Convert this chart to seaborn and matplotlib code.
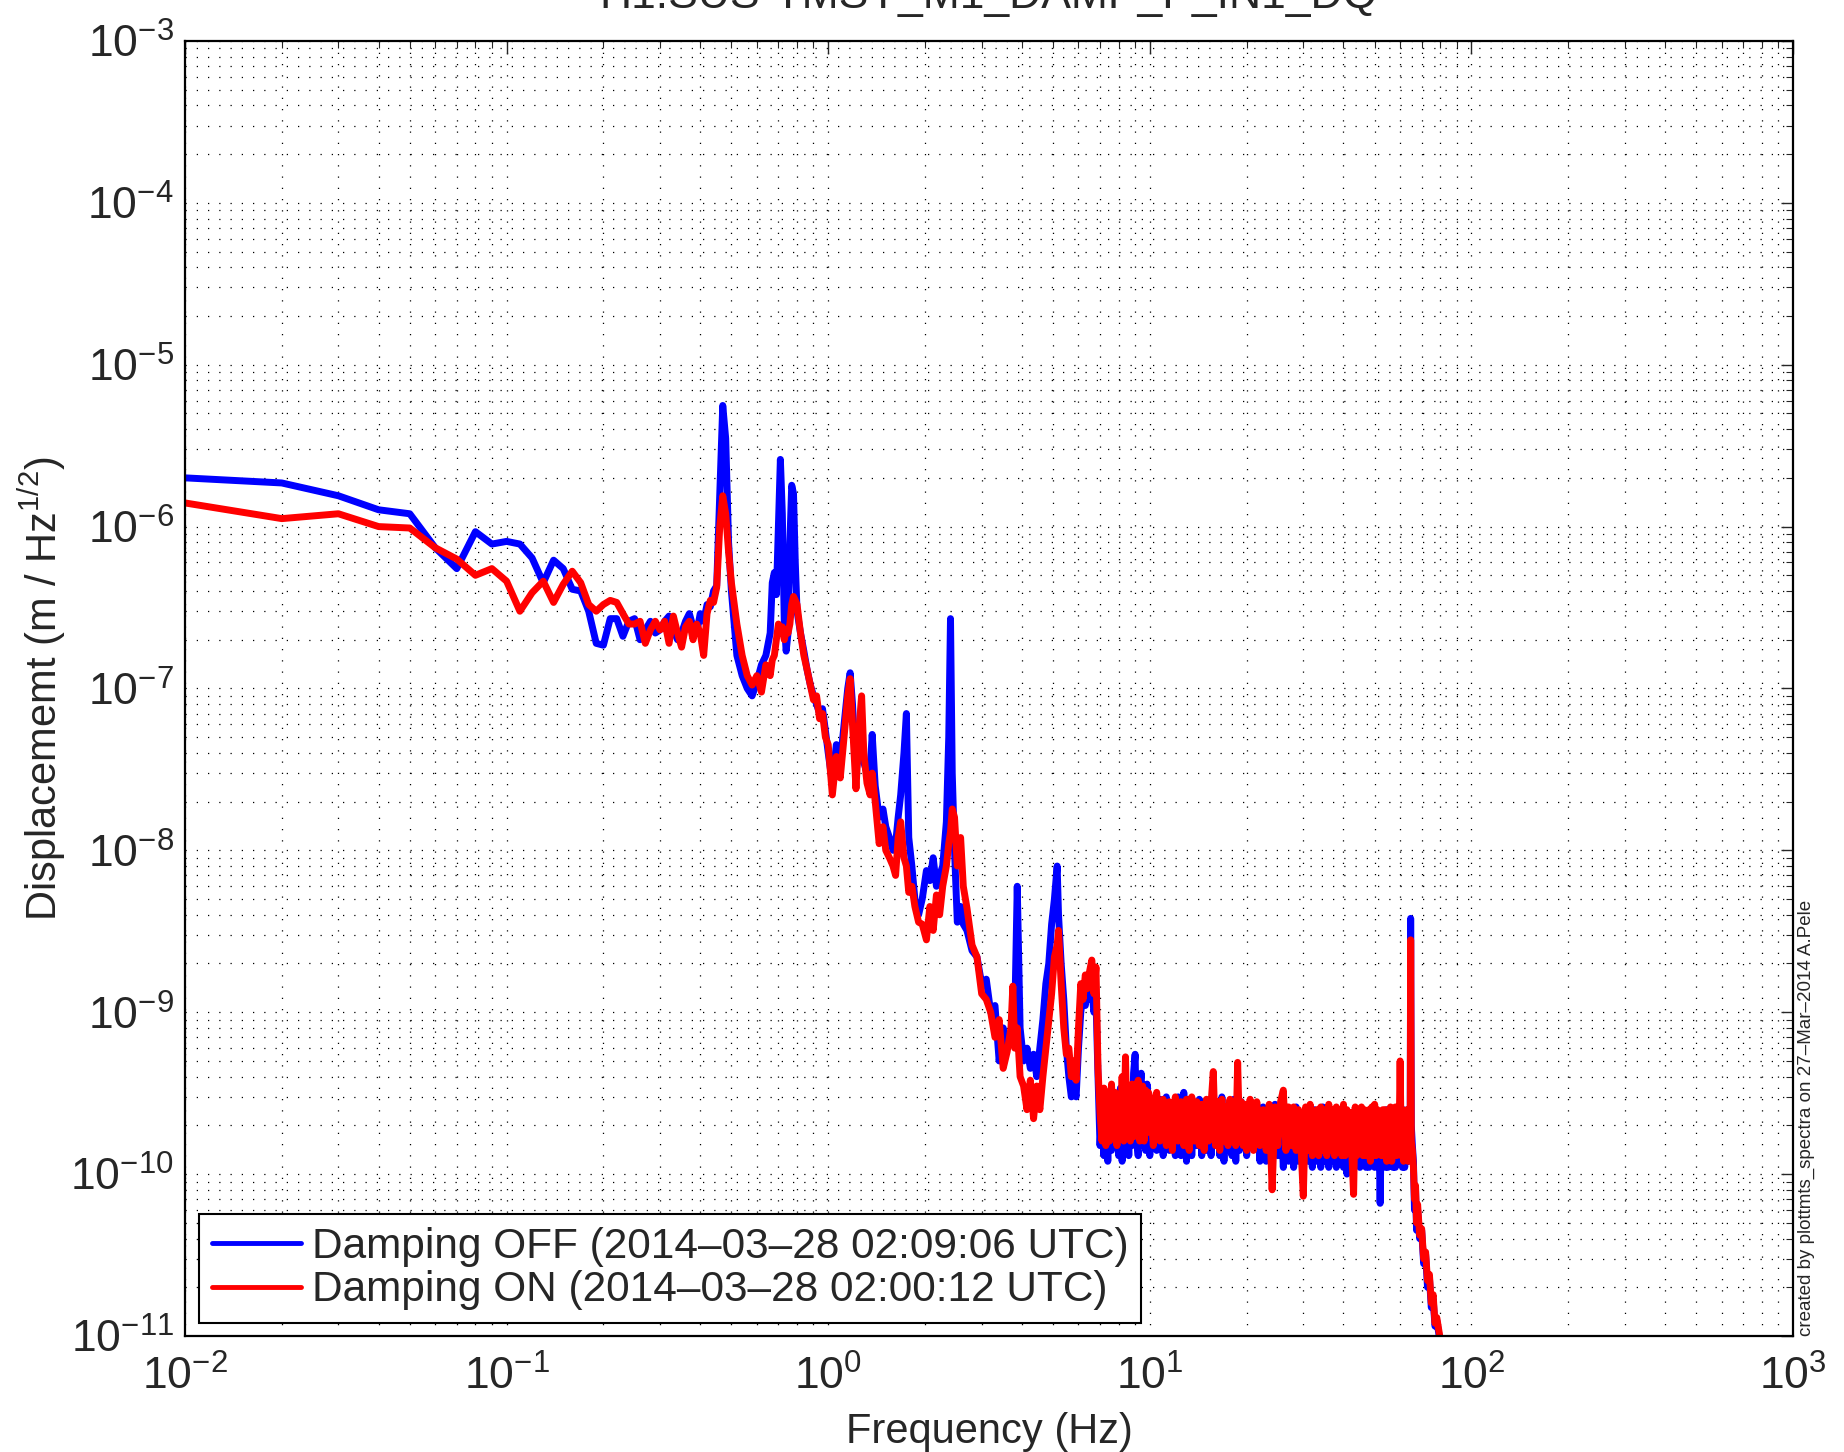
import numpy as np
import pandas as pd
import matplotlib
matplotlib.use("Agg")
import matplotlib.pyplot as plt
import matplotlib.ticker as mticker
import seaborn as sns

# --- data (m / sqrt(Hz)) ---
freq_low = [0.01, 0.02, 0.03, 0.04, 0.05, 0.06, 0.07, 0.08, 0.09, 0.10,
            0.11, 0.12, 0.13, 0.14, 0.15, 0.16, 0.17, 0.18, 0.19, 0.20,
            0.21, 0.22, 0.23, 0.24, 0.25, 0.26, 0.27, 0.28, 0.29, 0.30,
            0.31, 0.32, 0.33, 0.34, 0.35, 0.36, 0.37, 0.38, 0.39, 0.40,
            0.41, 0.42, 0.43, 0.44, 0.45, 0.46, 0.47, 0.48, 0.49, 0.50,
            0.52, 0.54, 0.56, 0.58, 0.60, 0.62, 0.64, 0.66, 0.67, 0.68,
            0.69, 0.70, 0.71, 0.72, 0.73, 0.74, 0.75, 0.76, 0.77, 0.78,
            0.79, 0.80, 0.82, 0.84, 0.86, 0.88, 0.90, 0.92, 0.94, 0.96, 0.98]
off_low = [2.0e-6, 1.86e-6, 1.55e-6, 1.27e-6, 1.2e-6, 7.4e-7, 5.5e-7, 9.3e-7, 7.8e-7, 8.1e-7,
           7.8e-7, 6.4e-7, 4.5e-7, 6.2e-7, 5.5e-7, 4.1e-7, 4.0e-7, 3.0e-7, 1.9e-7, 1.85e-7,
           2.7e-7, 2.7e-7, 2.1e-7, 2.6e-7, 2.7e-7, 2.0e-7, 2.3e-7, 2.6e-7, 2.2e-7, 2.3e-7,
           2.6e-7, 2.8e-7, 2.3e-7, 2.0e-7, 2.2e-7, 2.6e-7, 2.9e-7, 2.4e-7, 2.2e-7, 2.9e-7,
           2.6e-7, 3.3e-7, 3.2e-7, 4.0e-7, 4.3e-7, 1.6e-6, 5.6e-6, 3.5e-6, 8.0e-7, 4.0e-7,
           1.6e-7, 1.2e-7, 1.0e-7, 9.0e-8, 1.1e-7, 1.4e-7, 1.6e-7, 2.2e-7, 4.5e-7, 5.2e-7,
           3.8e-7, 1.0e-6, 2.6e-6, 1.2e-6, 2.6e-7, 1.7e-7, 2.2e-7, 8.0e-7, 1.8e-6, 1.6e-6,
           6.0e-7, 3.0e-7, 2.2e-7, 1.7e-7, 1.3e-7, 1.05e-7, 9.0e-8, 8.0e-8, 7.0e-8, 7.5e-8, 5.5e-8]
on_low = [1.4e-6, 1.12e-6, 1.2e-6, 1.0e-6, 9.8e-7, 7.4e-7, 6.3e-7, 5.0e-7, 5.5e-7, 4.6e-7,
          3.0e-7, 3.9e-7, 4.6e-7, 3.4e-7, 4.4e-7, 5.3e-7, 4.5e-7, 3.3e-7, 3.0e-7, 3.3e-7,
          3.5e-7, 3.4e-7, 2.9e-7, 2.5e-7, 2.5e-7, 2.6e-7, 1.9e-7, 2.3e-7, 2.6e-7, 2.3e-7,
          2.6e-7, 1.9e-7, 2.8e-7, 2.2e-7, 1.8e-7, 2.4e-7, 2.6e-7, 2.0e-7, 2.5e-7, 2.2e-7,
          1.6e-7, 2.9e-7, 3.5e-7, 3.4e-7, 4.2e-7, 1.0e-6, 1.55e-6, 1.2e-6, 7.0e-7, 4.5e-7,
          2.5e-7, 1.6e-7, 1.2e-7, 1.05e-7, 1.2e-7, 9.5e-8, 1.4e-7, 1.2e-7, 1.5e-7, 1.6e-7,
          2.0e-7, 2.5e-7, 2.2e-7, 2.4e-7, 2.0e-7, 2.3e-7, 2.2e-7, 2.5e-7, 3.3e-7, 3.7e-7,
          3.5e-7, 3.3e-7, 2.2e-7, 1.6e-7, 1.3e-7, 1.05e-7, 8.5e-8, 9.0e-8, 6.5e-8, 7.0e-8, 5.0e-8]

freq_mid = [1.00, 1.03, 1.06, 1.09, 1.12, 1.15, 1.17, 1.19, 1.22, 1.25,
            1.27, 1.29, 1.32, 1.35, 1.37, 1.40, 1.44, 1.48, 1.51, 1.55,
            1.59, 1.62, 1.65, 1.68, 1.72, 1.75, 1.78, 1.82, 1.86, 1.91,
            1.96, 2.02, 2.07, 2.12, 2.17, 2.22, 2.27, 2.33, 2.37, 2.40,
            2.43, 2.47, 2.52, 2.58, 2.63, 2.70, 2.80, 2.90, 3.00, 3.10,
            3.20, 3.30, 3.40, 3.50, 3.60, 3.70, 3.75, 3.80, 3.87, 3.95,
            4.05, 4.15, 4.25, 4.35, 4.45, 4.55, 4.65, 4.75, 4.85, 4.95,
            5.05, 5.15, 5.20, 5.30, 5.40, 5.50, 5.60, 5.70, 5.80, 5.90,
            6.00, 6.10, 6.20, 6.30, 6.40, 6.50, 6.60, 6.70, 6.80, 6.90]
off_mid = [4.0e-8, 2.6e-8, 4.5e-8, 3.5e-8, 6.0e-8, 1.0e-7, 1.25e-7, 8.0e-8, 3.0e-8, 4.5e-8,
           6.0e-8, 3.5e-8, 3.0e-8, 3.2e-8, 5.2e-8, 2.5e-8, 1.6e-8, 1.8e-8, 1.4e-8, 1.2e-8,
           1.0e-8, 1.1e-8, 1.6e-8, 2.2e-8, 4.0e-8, 7.0e-8, 1.2e-8, 8.0e-9, 5.0e-9, 4.0e-9,
           5.0e-9, 7.5e-9, 6.5e-9, 9.0e-9, 6.0e-9, 7.0e-9, 8.0e-9, 1.5e-8, 5.0e-8, 2.7e-7,
           3.0e-8, 1.0e-8, 3.6e-9, 4.5e-9, 3.5e-9, 3.2e-9, 2.4e-9, 2.2e-9, 1.5e-9, 1.6e-9,
           1.0e-9, 1.1e-9, 5.0e-10, 8.0e-10, 6.0e-10, 7.0e-10, 1.0e-9, 9.0e-10, 6.0e-9, 8.0e-10,
           5.0e-10, 6.0e-10, 4.5e-10, 5.5e-10, 4.0e-10, 6.0e-10, 9.0e-10, 1.5e-9, 2.0e-9, 3.5e-9,
           5.0e-9, 8.0e-9, 4.0e-9, 2.0e-9, 1.2e-9, 6.0e-10, 4.0e-10, 3.0e-10, 3.5e-10, 3.0e-10,
           6.0e-10, 1.0e-9, 1.3e-9, 1.1e-9, 1.4e-9, 1.2e-9, 1.4e-9, 1.0e-9, 1.2e-9, 4.0e-10]
on_mid = [4.5e-8, 2.2e-8, 3.8e-8, 2.8e-8, 5.0e-8, 9.0e-8, 1.15e-7, 6.0e-8, 2.4e-8, 6.0e-8,
          9.0e-8, 4.0e-8, 2.6e-8, 2.2e-8, 3.0e-8, 2.0e-8, 1.1e-8, 1.4e-8, 1.0e-8, 9.0e-9,
          8.0e-9, 7.0e-9, 1.2e-8, 1.5e-8, 9.0e-9, 8.0e-9, 5.5e-9, 6.0e-9, 4.5e-9, 3.6e-9,
          3.5e-9, 2.8e-9, 4.5e-9, 3.2e-9, 5.3e-9, 4.0e-9, 6.0e-9, 8.0e-9, 1.1e-8, 1.3e-8,
          1.8e-8, 1.6e-8, 8.0e-9, 1.2e-8, 6.0e-9, 4.4e-9, 2.6e-9, 2.2e-9, 1.3e-9, 1.2e-9,
          1.0e-9, 7.0e-10, 9.0e-10, 4.5e-10, 5.7e-10, 8.0e-10, 1.45e-9, 6.0e-10, 8.0e-10, 4.0e-10,
          3.5e-10, 2.5e-10, 3.8e-10, 2.2e-10, 3.5e-10, 2.5e-10, 4.0e-10, 6.0e-10, 9.0e-10, 1.3e-9,
          2.2e-9, 2.6e-9, 3.2e-9, 1.5e-9, 8.0e-10, 5.5e-10, 6.0e-10, 4.0e-10, 5.0e-10, 3.8e-10,
          8.0e-10, 1.5e-9, 1.2e-9, 1.7e-9, 1.4e-9, 1.8e-9, 2.1e-9, 1.3e-9, 1.9e-9, 4.5e-10]

# 7 - 20 Hz
freq_band1 = [7.0, 7.1, 7.2, 7.3, 7.4, 7.5, 7.6, 7.7, 7.8, 7.9,
              8.0, 8.1, 8.2, 8.3, 8.4, 8.5, 8.6, 8.7, 8.8, 8.9,
              9.0, 9.1, 9.2, 9.3, 9.4, 9.5, 9.6, 9.7, 9.8, 9.9,
              10.0,
              10.25, 10.5, 10.75, 11.0, 11.25, 11.5, 11.75, 12.0, 12.25, 12.5,
              12.75, 13.0, 13.25, 13.5, 13.75, 14.0, 14.25, 14.5, 14.75, 15.0,
              15.25, 15.5, 15.75, 16.0, 16.25, 16.5, 16.75, 17.0, 17.25, 17.5,
              17.75, 18.0, 18.25, 18.5, 18.75, 19.0, 19.25, 19.5, 19.75, 20.0]
off_band1 = [1.5e-10, 2.6e-10, 1.3e-10, 2.9e-10, 1.2e-10, 2.7e-10, 1.4e-10, 3.0e-10, 1.6e-10, 2.8e-10,
             1.3e-10, 3.4e-10, 1.2e-10, 2.6e-10, 1.4e-10, 2.9e-10, 1.3e-10, 3.2e-10, 1.5e-10, 4.2e-10,
             5.5e-10, 1.6e-10, 1.3e-10, 3.4e-10, 4.2e-10, 1.5e-10, 3.0e-10, 1.4e-10, 3.6e-10, 1.5e-10,
             1.3e-10,
             2.8e-10, 1.4e-10, 2.9e-10, 1.3e-10, 3.0e-10, 1.4e-10, 2.7e-10, 1.3e-10, 3.0e-10, 1.3e-10,
             3.2e-10, 1.2e-10, 2.9e-10, 1.3e-10, 2.7e-10, 1.5e-10, 2.9e-10, 1.3e-10, 2.8e-10, 1.4e-10,
             2.7e-10, 1.3e-10, 2.9e-10, 1.5e-10, 2.7e-10, 1.3e-10, 3.0e-10, 1.2e-10, 2.6e-10, 1.4e-10,
             2.8e-10, 1.3e-10, 2.9e-10, 1.2e-10, 2.6e-10, 1.4e-10, 2.8e-10, 1.5e-10, 2.5e-10, 1.3e-10]
on_band1 = [2.4e-10, 1.6e-10, 3.4e-10, 1.5e-10, 3.0e-10, 1.6e-10, 3.6e-10, 1.7e-10, 3.2e-10, 1.5e-10,
            3.0e-10, 1.8e-10, 4.0e-10, 1.6e-10, 5.3e-10, 1.7e-10, 3.3e-10, 1.6e-10, 3.6e-10, 1.7e-10,
            1.9e-10, 3.5e-10, 3.8e-10, 1.6e-10, 3.1e-10, 3.5e-10, 1.6e-10, 3.3e-10, 1.8e-10, 3.2e-10,
            3.0e-10,
            1.5e-10, 3.2e-10, 1.6e-10, 2.9e-10, 1.5e-10, 2.8e-10, 1.4e-10, 3.0e-10, 1.6e-10, 2.8e-10,
            1.5e-10, 2.9e-10, 1.4e-10, 3.0e-10, 1.6e-10, 2.8e-10, 1.5e-10, 2.7e-10, 1.4e-10, 2.9e-10,
            1.6e-10, 2.7e-10, 4.3e-10, 1.5e-10, 2.8e-10, 1.4e-10, 2.9e-10, 1.6e-10, 2.6e-10, 1.5e-10,
            2.9e-10, 1.6e-10, 2.8e-10, 1.5e-10, 4.9e-10, 1.7e-10, 2.8e-10, 1.5e-10, 2.7e-10, 1.4e-10]

# 20 - 64 Hz
freq_band2 = [20.5, 21.0, 21.5, 22.0,
              22.5, 23.0, 23.5, 24.0, 24.5, 25.0, 25.5, 26.0, 26.5, 27.0,
              27.5, 28.0, 28.5, 29.0, 29.5, 30.0, 30.5, 31.0, 31.5, 32.0,
              32.5, 33.0, 33.5, 34.0, 34.5, 35.0, 35.5, 36.0, 36.5, 37.0,
              37.5, 38.0, 38.5, 39.0, 39.5, 40.0, 40.5, 41.0, 41.5, 42.0,
              42.5, 43.0, 43.5, 44.0, 44.5, 45.0, 45.5, 46.0, 46.5, 47.0,
              47.5, 48.0, 48.5, 49.0, 49.5, 50.0, 50.5, 51.0, 51.5, 52.0,
              52.5, 53.0, 53.5, 54.0, 54.5, 55.0, 55.5, 56.0, 56.5, 57.0,
              57.5, 58.0, 58.5, 59.0, 59.5, 60.0, 60.5, 61.0, 61.5, 62.0,
              62.5, 63.0, 63.5, 64.0]
off_band2 = [2.5e-10, 1.5e-10, 2.7e-10, 1.2e-10,
             2.6e-10, 1.2e-10, 2.4e-10, 1.1e-10, 2.7e-10, 1.3e-10, 2.5e-10, 1.1e-10, 2.6e-10, 1.2e-10,
             2.4e-10, 1.1e-10, 2.6e-10, 1.2e-10, 2.4e-10, 1.1e-10, 2.5e-10, 1.2e-10, 2.3e-10, 1.1e-10,
             2.5e-10, 1.2e-10, 2.4e-10, 1.1e-10, 2.6e-10, 1.2e-10, 2.4e-10, 1.1e-10, 2.5e-10, 1.2e-10,
             2.4e-10, 1.1e-10, 2.5e-10, 1.2e-10, 2.4e-10, 1.1e-10, 2.5e-10, 1.0e-10, 2.4e-10, 1.1e-10,
             2.4e-10, 1.1e-10, 2.5e-10, 1.2e-10, 2.3e-10, 1.1e-10, 2.5e-10, 1.2e-10, 2.4e-10, 1.1e-10,
             2.4e-10, 1.1e-10, 2.5e-10, 1.2e-10, 2.3e-10, 1.1e-10, 2.4e-10, 1.2e-10, 2.3e-10, 6.6e-11,
             2.4e-10, 1.2e-10, 2.4e-10, 1.1e-10, 2.5e-10, 1.1e-10, 2.4e-10, 1.2e-10, 2.3e-10, 1.1e-10,
             2.4e-10, 1.1e-10, 2.3e-10, 1.2e-10, 2.4e-10, 1.3e-10, 2.4e-10, 1.1e-10, 2.5e-10, 1.1e-10,
             2.4e-10, 1.2e-10, 2.5e-10, 1.2e-10]
on_band2 = [2.9e-10, 1.4e-10, 2.8e-10, 1.5e-10,
            2.5e-10, 1.4e-10, 2.7e-10, 8.0e-11, 2.6e-10, 1.5e-10, 2.8e-10, 3.3e-10, 1.4e-10, 2.6e-10,
            1.5e-10, 2.6e-10, 1.4e-10, 2.5e-10, 1.5e-10, 7.3e-11, 2.6e-10, 1.4e-10, 2.7e-10, 1.3e-10,
            1.4e-10, 2.5e-10, 1.3e-10, 2.6e-10, 1.4e-10, 2.5e-10, 1.3e-10, 2.7e-10, 1.4e-10, 2.5e-10,
            1.3e-10, 2.6e-10, 1.4e-10, 2.5e-10, 1.3e-10, 2.7e-10, 1.3e-10, 2.5e-10, 1.4e-10, 2.4e-10,
            1.3e-10, 7.5e-11, 2.6e-10, 1.3e-10, 2.5e-10, 1.4e-10, 2.6e-10, 1.3e-10, 2.5e-10, 1.3e-10,
            1.3e-10, 2.5e-10, 1.2e-10, 2.6e-10, 1.3e-10, 2.7e-10, 1.3e-10, 2.5e-10, 1.4e-10, 2.4e-10,
            1.3e-10, 2.5e-10, 1.3e-10, 2.5e-10, 1.2e-10, 2.4e-10, 1.3e-10, 2.6e-10, 1.2e-10, 2.4e-10,
            1.3e-10, 2.6e-10, 1.3e-10, 2.4e-10, 1.4e-10, 5.0e-10, 1.3e-10, 2.5e-10, 1.2e-10, 2.4e-10,
            1.3e-10, 2.5e-10, 1.2e-10, 2.4e-10]

freq_tail = [64.5, 64.7, 65.0, 65.5, 66.0, 66.5, 67.0, 67.5, 68.0, 69.0, 70.0,
             71.0, 72.0, 73.0, 74.0, 75.0, 76.0, 77.0, 78.0, 80.0, 82.0, 85.0]
off_tail = [2.0e-10, 3.8e-9, 2.0e-10, 1.5e-10, 1.2e-10, 6.0e-11, 8.0e-11, 4.5e-11, 6.0e-11, 4.0e-11, 4.5e-11,
            2.8e-11, 3.2e-11, 2.0e-11, 2.3e-11, 1.5e-11, 1.7e-11, 1.15e-11, 1.25e-11, 9.0e-12, 7.0e-12, 5.0e-12]
on_tail = [1.8e-10, 2.8e-9, 1.6e-10, 1.4e-10, 1.1e-10, 7.0e-11, 8.5e-11, 5.0e-11, 6.5e-11, 4.2e-11, 4.6e-11,
           3.0e-11, 3.3e-11, 2.2e-11, 2.4e-11, 1.6e-11, 1.8e-11, 1.2e-11, 1.3e-11, 9.5e-12, 7.0e-12, 5.0e-12]

label_off = "Damping OFF (2014\u201303\u201328 02:09:06 UTC)"
label_on = "Damping ON (2014\u201303\u201328 02:00:12 UTC)"
title = "H1:SUS-TMSY_M1_DAMP_P_IN1_DQ"
credit = "created by plottmts_spectra on 27\u2013Mar\u20132014 A.Pele"


def main():
    freq = freq_low + freq_mid + freq_band1 + freq_band2 + freq_tail
    off = off_low + off_mid + off_band1 + off_band2 + off_tail
    on = on_low + on_mid + on_band1 + on_band2 + on_tail

    df = pd.DataFrame({
        "freq": freq + freq,
        "asd": off + on,
        "run": [label_off] * len(freq) + [label_on] * len(freq),
    })

    sns.set_style("white")
    plt.rcParams["font.family"] = ["Liberation Sans", "DejaVu Sans"]
    plt.rcParams["mathtext.fontset"] = "custom"
    plt.rcParams["mathtext.rm"] = "Liberation Sans"
    plt.rcParams["mathtext.it"] = "Liberation Sans"
    plt.rcParams["mathtext.default"] = "regular"

    fig = plt.figure(figsize=(18.44, 14.52), dpi=100)
    ax = fig.add_axes([0.1003, 0.0799, 0.8721, 0.8919])
    ax.set_xscale("log")
    ax.set_yscale("log")

    sns.lineplot(data=df, x="freq", y="asd", hue="run",
                 hue_order=[label_off, label_on],
                 palette=["#0000ff", "#ff0000"],
                 estimator=None, sort=False, linewidth=5, ax=ax)

    ax.set_xlim(1e-2, 1e3)
    ax.set_ylim(1e-11, 1e-3)
    ax.set_xticks([10.0 ** e for e in range(-2, 4)])
    ax.set_yticks([10.0 ** e for e in range(-11, -2)])
    ax.xaxis.set_minor_locator(mticker.LogLocator(base=10, subs=range(2, 10), numticks=100))
    ax.yaxis.set_minor_locator(mticker.LogLocator(base=10, subs=range(2, 10), numticks=100))
    ax.xaxis.set_minor_formatter(mticker.NullFormatter())
    ax.yaxis.set_minor_formatter(mticker.NullFormatter())

    ax.tick_params(which="both", direction="in", top=True, right=True, labelsize=32)
    ax.tick_params(which="major", length=9, width=1.0)
    ax.tick_params(which="minor", length=5, width=0.8)
    ax.tick_params(axis="y", pad=8)
    ax.tick_params(axis="x", pad=14)

    ax.grid(True, which="both", color="black", linestyle=(0, (1, 8)), linewidth=0.9)
    for sp in ax.spines.values():
        sp.set_color("black")
        sp.set_linewidth(1.6)

    ax.set_xlabel("Frequency (Hz)", fontsize=30, labelpad=10)
    ax.set_ylabel("Displacememt (m / Hz$^{1/2}$)", fontsize=30)
    ax.yaxis.set_label_coords(-0.073, 0.5)

    handles, labels = ax.get_legend_handles_labels()
    leg = ax.legend(handles, labels, loc="lower left", bbox_to_anchor=(0.009, 0.01),
                    borderaxespad=0, fontsize=30.5, frameon=True, fancybox=False,
                    framealpha=1, edgecolor="black", handlelength=2.1,
                    handletextpad=0.25, borderpad=0.3, labelspacing=0.08)
    leg.get_frame().set_linewidth(1.5)
    for line in leg.get_lines():
        line.set_linewidth(3.5)

    fig.text(0.5363, 0.9945, title, ha="center", va="baseline", fontsize=32)
    fig.text(0.9795, 0.0799, credit, ha="center", va="bottom", rotation=90, fontsize=13.5)

    fig.savefig("out.png", dpi=100)
    plt.close(fig)


if __name__ == "__main__":
    main()
